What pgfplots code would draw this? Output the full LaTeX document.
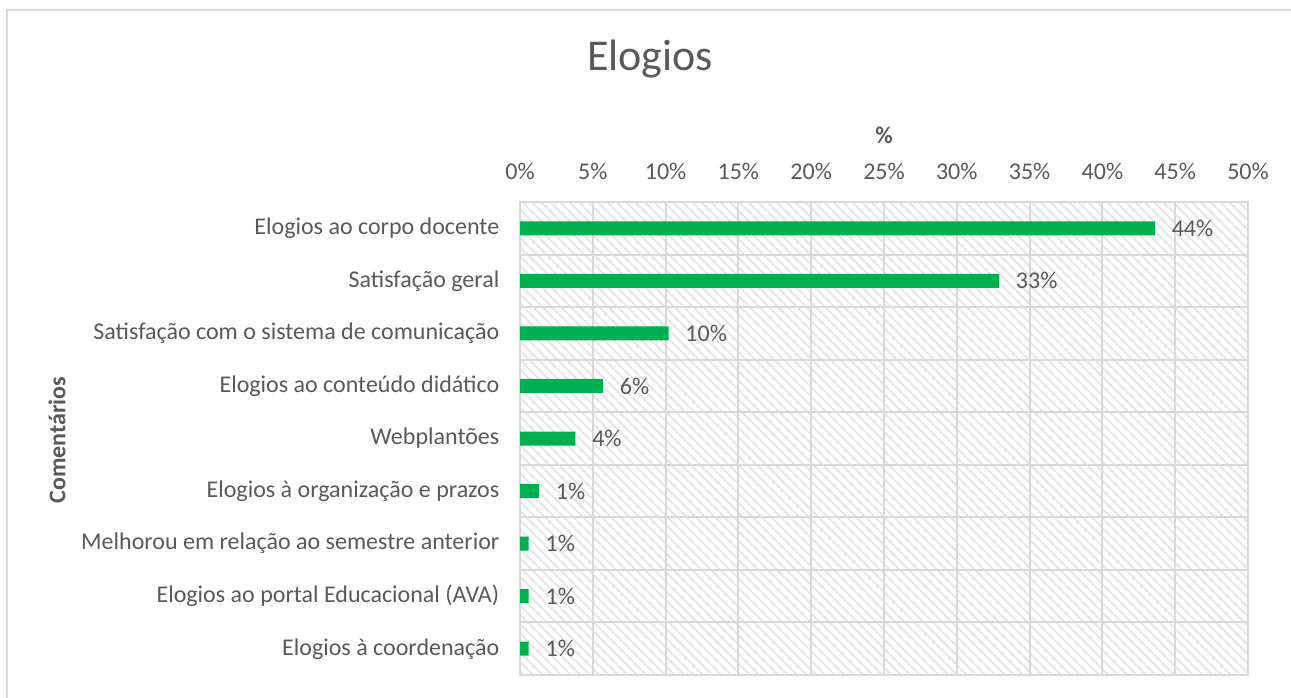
\documentclass[border=0pt]{standalone}
\usepackage{fontspec}
\setmainfont{Carlito}
\usepackage{pgfplots}
\usepackage{pgfplotstable}
\pgfplotsset{compat=1.18}
\usetikzlibrary{patterns.meta}
\definecolor{txt}{HTML}{595959}
\definecolor{grd}{HTML}{D9D9D9}
\definecolor{hatch}{HTML}{E6E6E6}
\definecolor{verde}{HTML}{00B050}

% y = category position (0 = top), v = bar length, lab = printed value
\pgfplotstableread{
y v lab
0 43.6 44
1 32.9 33
2 10.2 10
3 5.7 6
4 3.8 4
5 1.3 1
6 0.6 1
7 0.6 1
8 0.6 1
}\elogios

\begin{document}
\begin{tikzpicture}
\path[use as bounding box] (0,0) rectangle (968.25pt,-523.5pt);
\draw[grd, line width=1.5pt] (5.25pt,-600pt) -- (5.25pt,-7.5pt) -- (1000pt,-7.5pt);

\node[txt, font=\fontsize{33}{39}\selectfont] at (487.5pt,-44.5pt) {Elogios};
\node[txt, font=\fontsize{18}{21}\selectfont\bfseries] at (663pt,-101.25pt) {\%};
\node[txt, font=\fontsize{18}{21}\selectfont\bfseries, rotate=90] at (42.75pt,-330pt) {Comentários};

\begin{axis}[
  at={(390pt,-506.25pt)}, anchor=south west,
  scale only axis, width=546pt, height=354.75pt,
  xbar, bar width=10.5pt,
  xmin=0, xmax=50, ymin=-0.5, ymax=8.5, y dir=reverse,
  xtick={0,5,...,50},
  xticklabels={0\%,5\%,10\%,15\%,20\%,25\%,30\%,35\%,40\%,45\%,50\%},
  xticklabel pos=upper,
  ytick={0,...,8},
  yticklabels={Elogios ao corpo docente, Satisfação geral,
    Satisfação com o sistema de comunicação, Elogios ao conteúdo didático,
    Webplantões, Elogios à organização e prazos,
    Melhorou em relação ao semestre anterior,
    Elogios ao portal Educacional (AVA), Elogios à coordenação},
  minor ytick={0.5,1.5,...,7.5},
  xmajorgrids, yminorgrids,
  major tick length=0pt, minor tick length=0pt,
  tick style={draw=none},
  grid style={grd, line width=1.5pt},
  minor grid style={grd, line width=1.5pt},
  axis line style={grd, line width=1.5pt},
  axis background/.style={pattern={Lines[angle=-45,distance=5pt,line width=1.5pt]}, pattern color=hatch},
  tick label style={txt, font=\fontsize{18}{21}\selectfont},
  xticklabel style={yshift=13pt},
  yticklabel style={xshift=-12pt},
  /pgf/number format/assume math mode=true,
  point meta=explicit,
  nodes near coords={\pgfmathprintnumber{\pgfplotspointmeta}\%},
  nodes near coords style={txt, font=\fontsize{18}{21}\selectfont, anchor=west, inner sep=0pt, xshift=12.5pt},
]
\addplot[fill=verde, draw=none] table[x=v, y=y, meta=lab] {\elogios};
\end{axis}
\end{tikzpicture}
\end{document}
